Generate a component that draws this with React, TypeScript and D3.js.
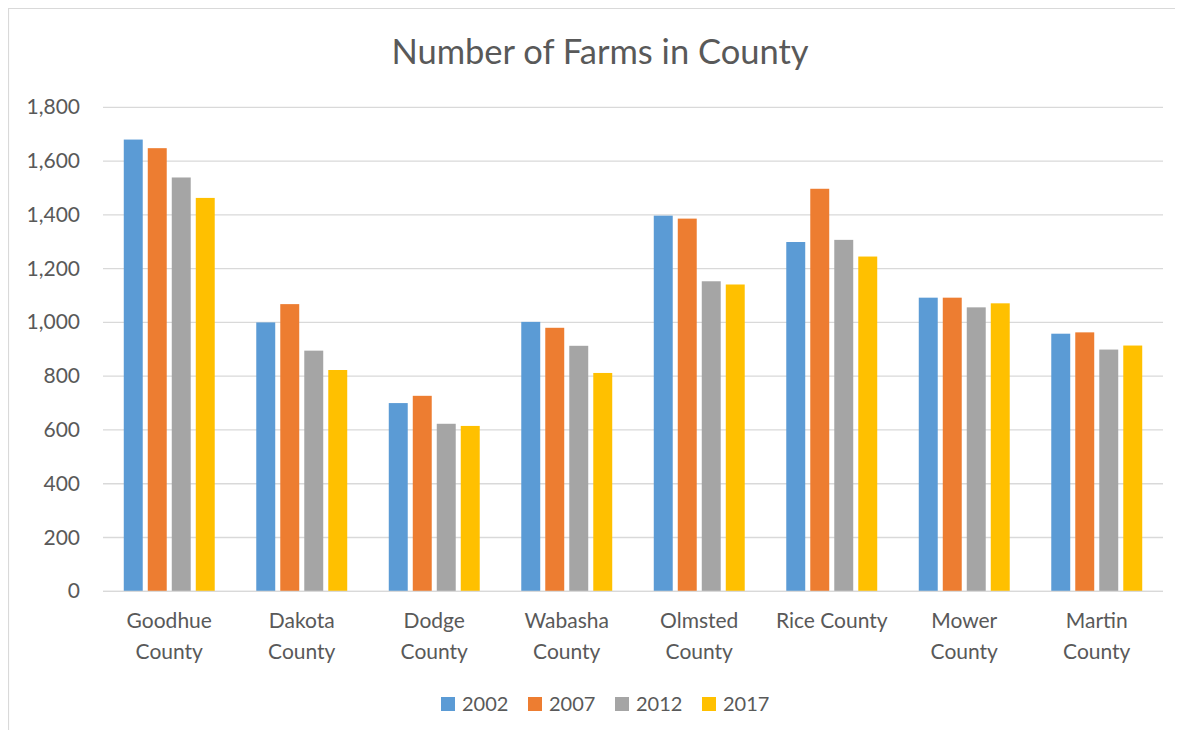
import React from "react";
import * as d3 from "d3";

const title = "Number of Farms in County";
const categories = [
  ["Goodhue", "County"],
  ["Dakota", "County"],
  ["Dodge", "County"],
  ["Wabasha", "County"],
  ["Olmsted", "County"],
  ["Rice County"],
  ["Mower", "County"],
  ["Martin", "County"],
];
const seriesNames = ["2002", "2007", "2012", "2017"];
const v2002 = [1680, 1000, 700, 1002, 1397, 1299, 1092, 958];
const v2007 = [1648, 1068, 727, 980, 1386, 1497, 1092, 963];
const v2012 = [1539, 895, 623, 913, 1153, 1307, 1056, 899];
const v2017 = [1463, 823, 615, 812, 1141, 1245, 1071, 914];
const seriesValues = [v2002, v2007, v2012, v2017];
const yTicks = [0, 200, 400, 600, 800, 1000, 1200, 1400, 1600, 1800];
const colors = ["#5B9BD5", "#ED7D31", "#A5A5A5", "#FFC000"];

const FONT = "Lato, 'Open Sans', sans-serif";
const TEXT = "#595959";
const GRID = "#D9D9D9";

export default function App() {
  const left = 103, right = 1163, top = 107.3, bottom = 591.3;
  const x0 = d3.scaleBand<number>().domain(d3.range(categories.length)).range([left, right]).padding(0);
  const groupW = 96;
  const x1 = d3.scaleBand<number>().domain(d3.range(seriesNames.length)).range([0, groupW]).paddingInner(0.21).paddingOuter(0.105);
  const y = d3.scaleLinear().domain([0, 1800]).range([bottom, top]);
  const fmt = d3.format(",");
  const legendX = d3.scaleLinear().domain([0, 1]).range([441, 528]);

  return (
    <svg width={1175} height={722} style={{ display: "block" }}>
      <g transform="translate(-8,-8)">
        <path d="M8.5,760 V8.5 H1200" fill="none" stroke={GRID} strokeWidth={1.2} />
        <text x={600} y={64} textAnchor="middle" fontFamily={FONT} fontSize={34.5} fill={TEXT}>{title}</text>
        {yTicks.map((t) => (
          <g key={t}>
            <line x1={left} x2={right} y1={y(t)} y2={y(t)} stroke={GRID} strokeWidth={1.3} />
            <text x={80} y={y(t) + 7} textAnchor="end" fontFamily={FONT} fontSize={21} fill={TEXT}>{fmt(t)}</text>
          </g>
        ))}
        {categories.map((cat, i) => {
          const gx = (x0(i) as number) + (x0.bandwidth() - groupW) / 2;
          return (
            <g key={i}>
              {seriesValues.map((vals, s) => (
                <rect key={s} x={gx + (x1(s) as number)} y={y(vals[i])} width={x1.bandwidth()} height={bottom - y(vals[i])} fill={colors[s]} />
              ))}
              {cat.map((line, k) => (
                <text key={k} x={(x0(i) as number) + x0.bandwidth() / 2} y={628 + k * 31} textAnchor="middle" fontFamily={FONT} fontSize={21} fill={TEXT}>{line}</text>
              ))}
            </g>
          );
        })}
        <line x1={left} x2={right} y1={bottom} y2={bottom} stroke={GRID} strokeWidth={1.3} />
        {seriesNames.map((n, s) => (
          <g key={n}>
            <rect x={legendX(s)} y={697} width={14} height={14} fill={colors[s]} />
            <text x={legendX(s) + 21} y={711} fontFamily={FONT} fontSize={20} fill={TEXT}>{n}</text>
          </g>
        ))}
      </g>
    </svg>
  );
}
